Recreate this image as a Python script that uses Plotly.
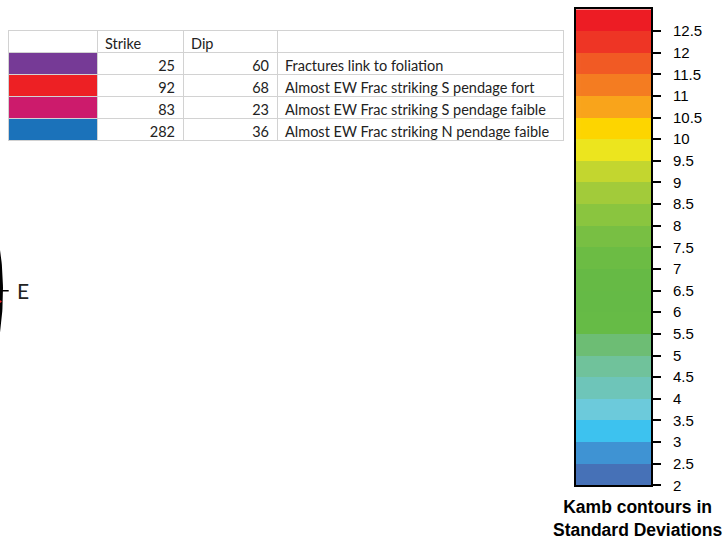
import numpy as np
import plotly.graph_objects as go

# ---------------- data ----------------
set_colors = ["#763a96", "#ed2024", "#cc1b6c", "#1b72ba"]
strikes = [25, 92, 83, 282]
dips = [60, 68, 23, 36]
descriptions = [
    "Fractures link to foliation",
    "Almost EW Frac striking S pendage fort",
    "Almost EW Frac striking S pendage faible",
    "Almost EW Frac striking N pendage faible",
]
table_header = ["", "Strike", "Dip", ""]

kamb_levels = [2, 2.5, 3, 3.5, 4, 4.5, 5, 5.5, 6, 6.5, 7, 7.5, 8, 8.5, 9,
               9.5, 10, 10.5, 11, 11.5, 12, 12.5, 13]
kamb_colors = ["#4671b7", "#3f93d3", "#3dc2ef", "#6ccadb", "#6ec5b9", "#70c29b",
               "#6dbd74", "#66bb46", "#65ba46", "#66ba45", "#6cbc44", "#78bf43",
               "#8ac53f", "#a2cb3a", "#c3d62f", "#ece51e", "#fdd500", "#f9a41b",
               "#f47c21", "#f15a24", "#ee3525", "#ed1c24"]
tick_vals = kamb_levels[:-1]
tick_text = [("%g" % v) for v in tick_vals]
cbar_title = "Kamb contours in<br>Standard Deviations"

W, H = 725, 547
fig = go.Figure()

# ---------------- table ----------------
fig.add_trace(go.Table(
    domain=dict(x=[8 / W, 563 / W], y=[1 - 145 / H, 1 - 31 / H]),
    columnwidth=[89, 86, 94, 286],
    header=dict(
        values=table_header,
        align="left",
        height=22,
        fill_color="white",
        line=dict(color="#d2d2d2", width=1),
        font=dict(family="Lato", size=14.5, color="#222222"),
    ),
    cells=dict(
        values=[[""] * 4, strikes, dips, descriptions],
        align=["left", "right", "right", "left"],
        height=22,
        fill_color=[set_colors, ["white"] * 4, ["white"] * 4, ["white"] * 4],
        line=dict(color="#d2d2d2", width=1),
        font=dict(family="Lato", size=14.5, color="#222222"),
    ),
))

# ---------------- stereonet (equal-area) ----------------
R_PX = 300.0
sx0, sx1 = 0.0, 0.25
sy0, sy1 = 0.2, 0.9
x_left = 1 - 1.5 / R_PX
x_right = x_left + (sx1 - sx0) * W / R_PX
cy_px = 295.0
y_top = (cy_px - (1 - sy1) * H) / R_PX
y_bot = -((1 - sy0) * H - cy_px) / R_PX

theta = np.linspace(0, 2 * np.pi, 721)
fig.add_trace(go.Scatter(x=np.sin(theta), y=np.cos(theta), mode="lines",
                         line=dict(color="black", width=3),
                         xaxis="x", yaxis="y", hoverinfo="skip", showlegend=False))
# E tick
fig.add_trace(go.Scatter(x=[0.975, 1.024], y=[0, 0], mode="lines",
                         line=dict(color="black", width=1.6),
                         xaxis="x", yaxis="y", hoverinfo="skip", showlegend=False))


def great_circle(strike, dip):
    s = np.radians(strike)
    d = np.radians(dip)
    rake = np.radians(np.linspace(0, 180, 361))
    sv = np.array([np.sin(s), np.cos(s), 0.0])
    dd = s + np.pi / 2
    dv = np.array([np.sin(dd) * np.cos(d), np.cos(dd) * np.cos(d), np.sin(d)])
    v = np.outer(np.cos(rake), sv) + np.outer(np.sin(rake), dv)
    plunge = np.arcsin(np.clip(v[:, 2], -1, 1))
    trend = np.arctan2(v[:, 0], v[:, 1])
    rho = np.sqrt(2) * np.sin((np.pi / 2 - plunge) / 2)
    return rho * np.sin(trend), rho * np.cos(trend)


for st, dp, col in zip(strikes, dips, set_colors):
    gx, gy = great_circle(st, dp)
    fig.add_trace(go.Scatter(x=gx, y=gy, mode="lines", line=dict(color=col, width=1.8),
                             xaxis="x", yaxis="y", hoverinfo="skip", showlegend=False))

fig.add_annotation(x=1.045, y=0, xref="x", yref="y", text="E", showarrow=False,
                   xanchor="left", yanchor="middle",
                   font=dict(family="Lato", size=21, color="#222222"))

# ---------------- Kamb colour bar ----------------
n = len(kamb_colors)
cscale = []
for i, c in enumerate(kamb_colors):
    cscale.append([i / n, c])
    cscale.append([(i + 1) / n, c])
fig.add_trace(go.Heatmap(
    x=[0, 1], y=kamb_levels, z=[[i] for i in range(n)],
    zmin=-0.5, zmax=n - 0.5, colorscale=cscale, showscale=False,
    xaxis="x2", yaxis="y2", hoverinfo="skip",
))
fig.add_annotation(x=637 / W, y=1 - 526 / H, xref="paper", yref="paper",
                   text="<b>" + cbar_title.replace("<br>", "</b><br><b>") + "</b>",
                   showarrow=False, xanchor="center", yanchor="middle",
                   font=dict(family="Liberation Sans", size=17.5, color="black"))

fig.update_layout(
    width=W, height=H,
    margin=dict(l=0, r=0, t=0, b=0),
    paper_bgcolor="white", plot_bgcolor="rgba(0,0,0,0)",
    showlegend=False,
    xaxis=dict(domain=[sx0, sx1], range=[x_left, x_right], visible=False, fixedrange=True),
    yaxis=dict(domain=[sy0, sy1], range=[y_bot, y_top], visible=False, fixedrange=True),
    xaxis2=dict(domain=[576 / W, 651 / W], range=[0, 1], showline=True, mirror=True,
                linecolor="black", linewidth=2, showticklabels=False, ticks="",
                showgrid=False, zeroline=False, anchor="y2", fixedrange=True),
    yaxis2=dict(domain=[1 - 492.5 / H, 1 - 9.5 / H], range=[2, 13], side="right",
                showline=True, mirror=True, linecolor="black", linewidth=2,
                ticks="outside", ticklen=8, tickwidth=2, tickcolor="black",
                tickvals=tick_vals, ticktext=tick_text, ticklabelstandoff=9,
                tickfont=dict(family="Liberation Sans", size=15, color="black"),
                showgrid=False, zeroline=False, anchor="x2", fixedrange=True),
)

post = (
    "document.body.style.margin='0';"
    "document.documentElement.style.overflow='hidden';"
    "document.body.style.overflow='hidden';"
)
fig.write_html("out.html", config={"displayModeBar": False}, post_script=post)
